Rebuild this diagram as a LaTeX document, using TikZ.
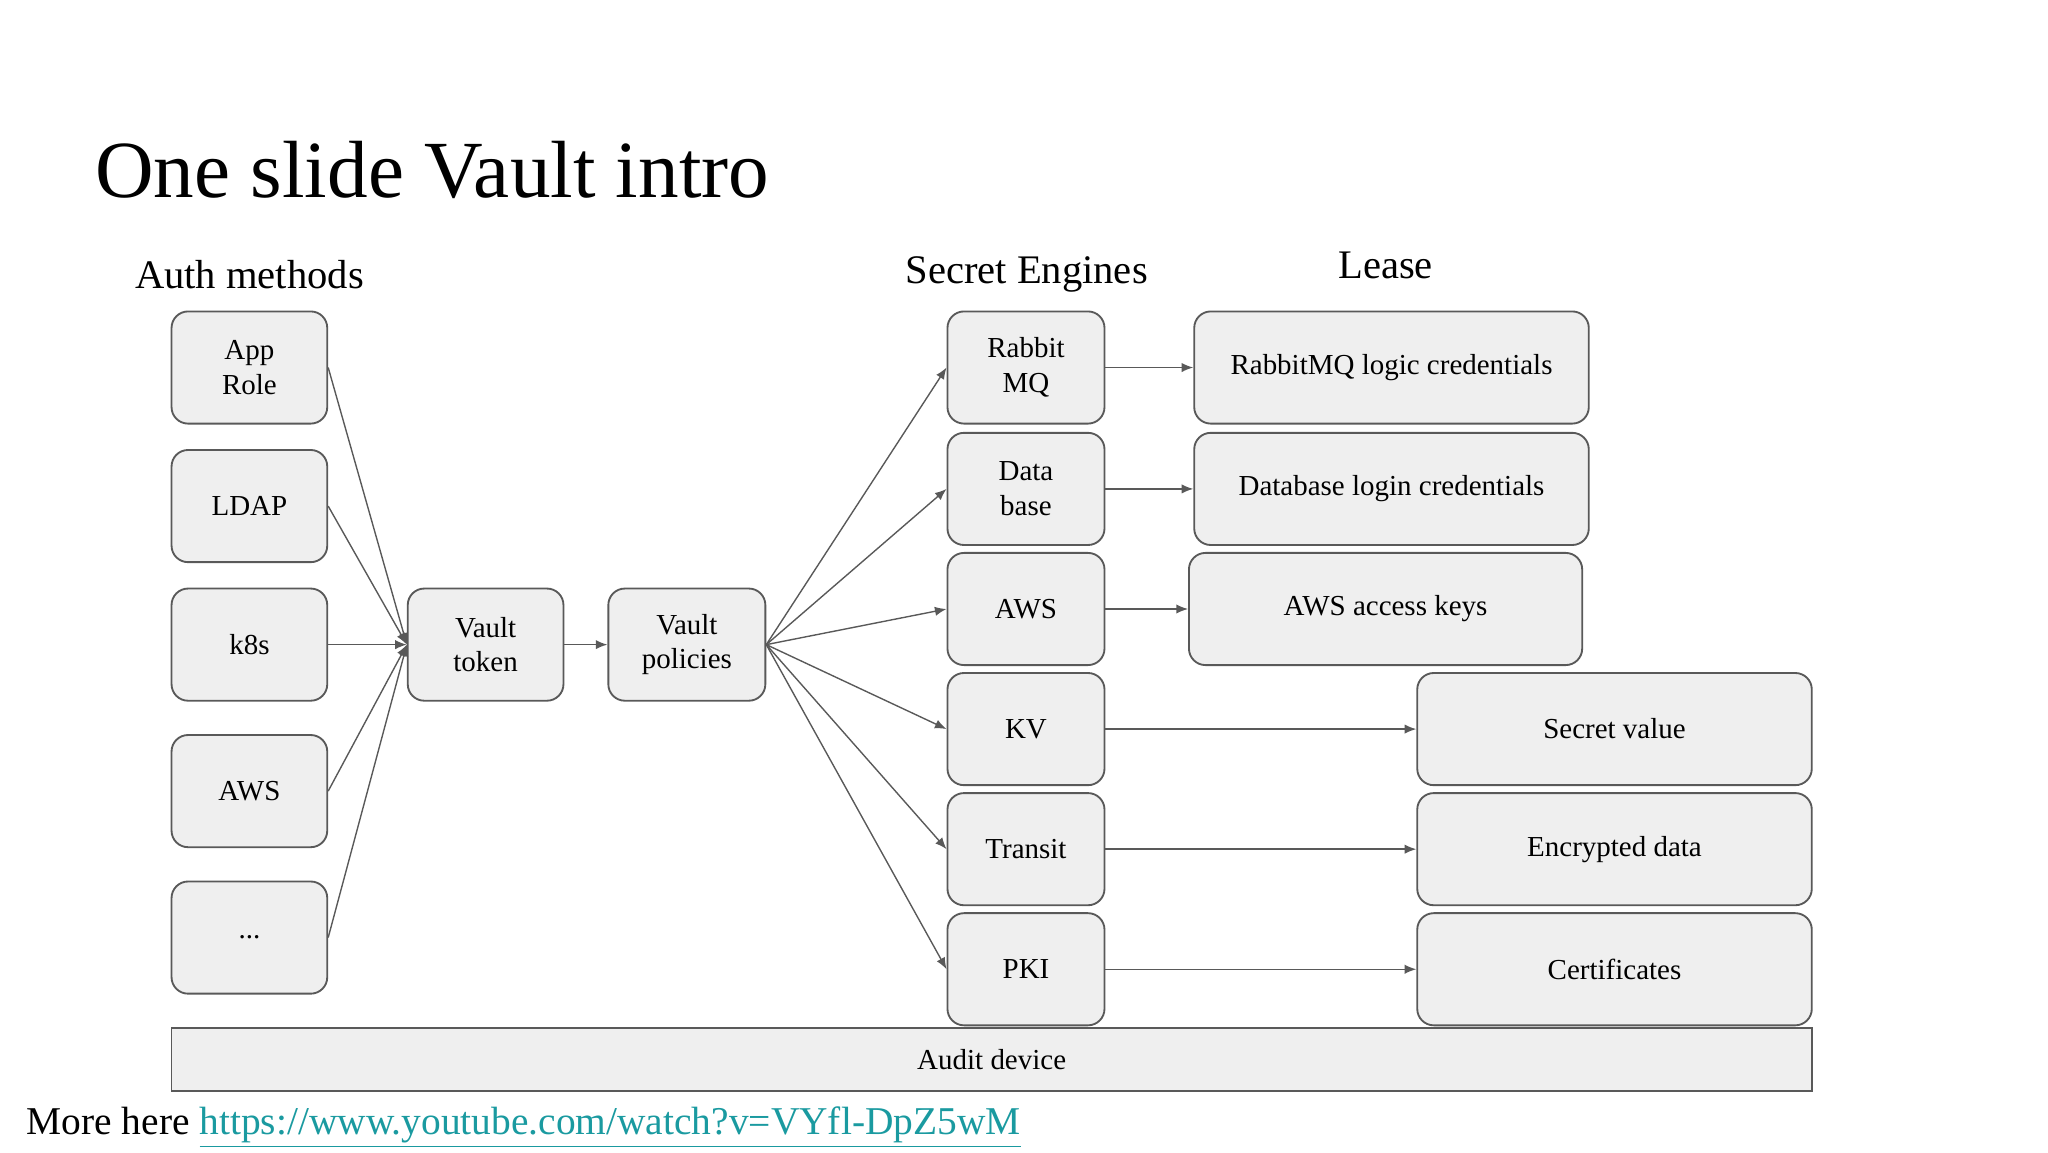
\documentclass[tikz,border=0pt]{standalone}
\usepackage{fontspec}
\setmainfont{Liberation Serif}
\usetikzlibrary{arrows.meta}
\definecolor{boxfill}{HTML}{EFEFEF}
\definecolor{boxline}{HTML}{595959}
\definecolor{link}{HTML}{1A9AA0}
\begin{document}
\begin{tikzpicture}[x=0.02cm,y=-0.02cm,
  box/.style={draw=boxline,fill=boxfill,rounded corners=0.25cm,line width=0.8pt,
    align=center,font=\fontsize{12.5}{15}\selectfont,inner sep=0pt},
  arr/.style={draw=boxline,line width=0.6pt,-{Latex[length=5pt,width=4pt]}},
  head/.style={font=\fontsize{17.5}{20}\selectfont}]
\useasboundingbox (0,0) rectangle (1552,873);
\newcommand{\bx}[6]{\node[box,minimum width={(#3-#2)*0.02cm},minimum height={(#5-#4)*0.02cm}] (#1) at ({(#2+#3)/2},{(#4+#5)/2}) {#6};}
\node[anchor=base west,font=\fontsize{35}{40}\selectfont] (title) at (66,150) {One slide Vault intro};
\node[head] (hauth) at (189,208) {Auth methods};
\node[head] (heng) at (778,208) {Secret Engines};
\node[head] (hlease) at (1050,201) {Lease};
% auth methods
\bx{a1}{130}{248}{236}{321}{App\\Role}
\bx{a2}{130}{248}{341}{426}{LDAP}
\bx{a3}{130}{248}{446}{531}{k8s}
\bx{a4}{130}{248}{557}{642}{AWS}
\bx{a5}{130}{248}{668}{753}{...}
\bx{tok}{309}{427}{446}{531}{Vault\\token}
\bx{pol}{461}{580}{446}{531}{Vault\\policies}
% engines
\bx{e1}{718}{837}{236}{321}{Rabbit\\MQ}
\bx{e2}{718}{837}{328}{413}{Data\\base}
\bx{e3}{718}{837}{419}{504}{AWS}
\bx{e4}{718}{837}{510}{595}{KV}
\bx{e5}{718}{837}{601}{686}{Transit}
\bx{e6}{718}{837}{692}{777}{PKI}
% leases
\bx{l1}{905}{1204}{236}{321}{RabbitMQ logic credentials}
\bx{l2}{905}{1204}{328}{413}{Database login credentials}
\bx{l3}{901}{1199}{419}{504}{AWS access keys}
\bx{l4}{1074}{1373}{510}{595}{Secret value}
\bx{l5}{1074}{1373}{601}{686}{Encrypted data}
\bx{l6}{1074}{1373}{692}{777}{Certificates}
\node[box,rounded corners=0pt,minimum width={1243*0.02cm},minimum height={48*0.02cm}] (audit) at (751.5,803) {Audit device};
% connectors
\foreach \a in {a1,a2,a3,a4,a5} \draw[arr] (\a.east) -- (tok.west);
\draw[arr] (tok) -- (pol);
\foreach \e in {e1,e2,e3,e4,e5,e6} \draw[arr] (pol.east) -- (\e.west);
\foreach \i in {1,...,6} \draw[arr] (e\i.east) -- (l\i.west);
\node[anchor=base west,font=\fontsize{17}{21}\selectfont] (more) at (14,860) {More here \textcolor{link}{\underline{https://www.youtube.com/watch?v=VYfl-DpZ5wM}}};
\end{tikzpicture}
\end{document}
